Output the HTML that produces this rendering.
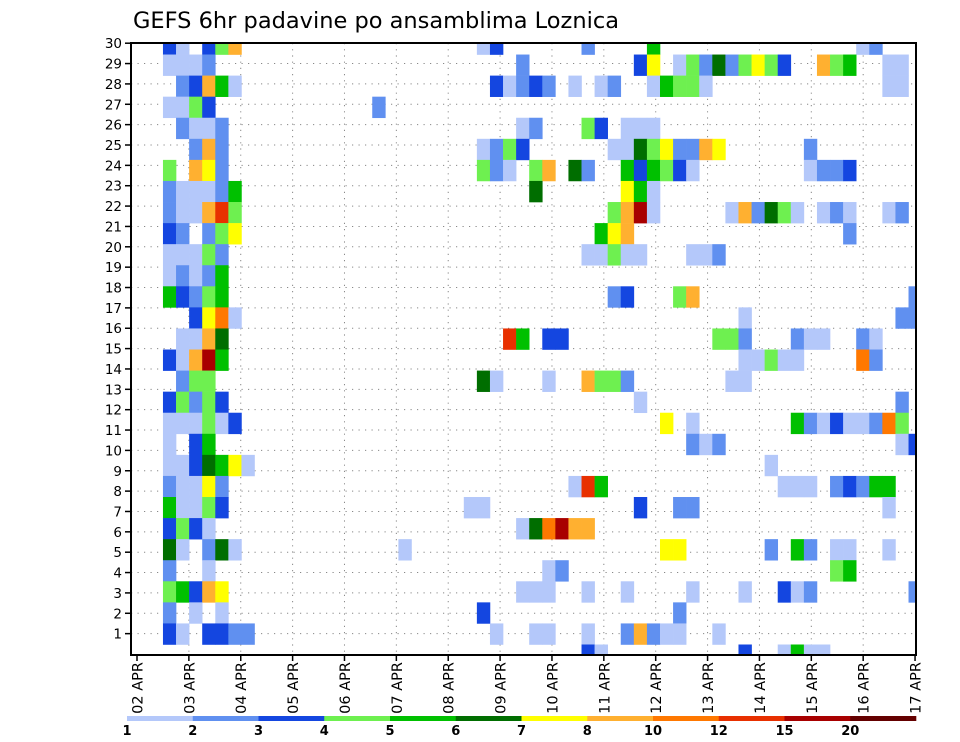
<!DOCTYPE html>
<html><head><meta charset="utf-8">
<style>
html,body{margin:0;padding:0;background:#fff;}
svg{display:block;}
text{font-family:"DejaVu Sans","Liberation Sans",sans-serif;fill:#000;}
</style></head>
<body>
<svg id="chart" width="960" height="742" viewBox="0 0 960 742" xmlns="http://www.w3.org/2000/svg">
<defs><clipPath id="plotclip"><rect x="131" y="43" width="785" height="612"/></clipPath></defs>
<text x="133" y="28" font-size="22" textLength="486" lengthAdjust="spacingAndGlyphs">GEFS 6hr padavine po ansamblima Loznica</text>
<g id="grid"></g>
<g id="cells" clip-path="url(#plotclip)"></g>
<rect x="131" y="43" width="785" height="612" fill="none" stroke="#000" stroke-width="2"/>
<g id="axes"></g>
<g id="legend"></g>
</svg>
<script>
// Ensemble member rows (top to bottom); each entry "timestepIndex:level"
const memberRows = [
"2:3 3:1 5:3 6:4 7:8 26:1 27:3 34:2 39:5 55:1 56:2",
"2:1 3:1 4:1 5:2 29:2 38:3 39:7 41:1 42:4 43:2 44:6 45:2 46:4 47:7 48:4 49:3 52:8 53:4 54:5 57:1 58:1",
"3:2 4:3 5:8 6:5 7:1 27:3 28:1 29:2 30:3 31:2 33:1 35:1 36:2 39:1 40:5 41:4 42:4 43:1 57:1 58:1",
"2:1 3:1 4:4 5:3 18:2",
"3:2 4:1 5:1 6:2 29:1 30:2 34:4 35:3 37:1 38:1 39:1",
"4:2 5:8 6:2 26:1 27:2 28:4 29:3 36:1 37:1 38:6 39:4 40:7 41:2 42:2 43:8 44:7 51:2",
"2:4 4:8 5:7 6:2 26:4 27:2 28:1 30:4 31:8 33:6 34:2 37:5 38:3 39:5 40:4 41:3 42:1 51:1 52:2 53:2 54:3",
"2:2 3:1 4:1 5:1 6:2 7:5 30:6 37:7 38:5 39:1",
"2:2 3:1 4:1 5:8 6:10 7:4 36:4 37:8 38:11 39:1 45:1 46:8 47:2 48:6 49:4 50:1 52:1 53:2 54:1 57:1 58:2",
"2:3 3:2 5:2 6:4 7:7 35:5 36:7 37:8 54:2",
"2:1 3:1 4:1 5:4 6:2 34:1 35:1 36:4 37:1 38:1 42:1 43:1 44:2",
"2:1 3:2 4:1 5:2 6:5",
"2:5 3:3 4:2 5:4 6:5 36:2 37:3 41:4 42:8 59:2",
"4:3 5:7 6:9 7:1 46:1 58:2 59:2",
"3:1 4:1 5:8 6:6 28:10 29:5 31:3 32:3 44:4 45:4 46:2 50:2 51:1 52:1 55:2 56:1",
"2:3 3:1 4:8 5:11 6:5 46:1 47:1 48:4 49:1 50:1 55:9 56:2",
"3:2 4:4 5:4 26:6 27:1 31:1 34:8 35:4 36:4 37:2 45:1 46:1",
"2:3 3:4 4:2 5:4 6:3 38:1 58:2",
"2:1 3:1 4:1 5:4 6:1 7:3 40:7 42:1 50:5 51:2 52:1 53:3 54:1 55:1 56:2 57:9 58:4",
"2:1 4:3 5:5 42:2 43:1 44:2 58:1 59:3",
"2:1 3:1 4:3 5:6 6:5 7:7 8:1 48:1",
"2:2 3:1 4:1 5:7 6:2 33:1 34:10 35:5 49:1 50:1 51:1 53:2 54:3 55:2 56:5 57:5",
"2:5 3:1 4:1 5:4 6:3 25:1 26:1 38:3 41:2 42:2 57:1",
"2:3 3:4 4:3 5:1 29:1 30:6 31:9 32:11 33:8 34:8",
"2:6 3:1 5:2 6:6 7:1 20:1 40:7 41:7 48:2 50:5 51:2 53:1 54:1 57:1",
"2:2 5:1 31:1 32:2 53:4 54:5",
"2:4 3:5 4:3 5:8 6:7 29:1 30:1 31:1 34:1 37:1 42:1 46:1 49:3 50:1 51:2 59:2",
"2:2 4:1 6:1 26:3 41:2",
"2:3 3:1 5:3 6:3 7:2 8:2 27:1 30:1 31:1 34:1 37:2 38:8 39:2 40:1 41:1 44:1",
"34:3 35:1 46:3 49:1 50:5 51:1 52:1"
];
const levelColors = ["#ffffff","#b4c8fa","#6090f0","#1446e0","#6ef050","#00c000","#006e00","#ffff00","#ffb030","#ff7800","#e83000","#a80000","#640000"];
const legendLabels = ["1","2","3","4","5","6","7","8","10","12","15","20"];
const dayLabels = ["02","03","04","05","06","07","08","09","10","11","12","13","14","15","16","17"];
const yTickLabels = ["1","2","3","4","5","6","7","8","9","10","11","12","13","14","15","16","17","18","19","20","21","22","23","24","25","26","27","28","29","30"];

const NS = "http://www.w3.org/2000/svg";
function mk(tag, attrs, parent){const e=document.createElementNS(NS,tag);for(const k in attrs)e.setAttribute(k,attrs[k]);parent.appendChild(e);return e;}
// axis functions
const cellW = 13.08, cellH = 21.07;
function xCell(c){return 136.8 + cellW*c;}
function yRow(j){return 44 + cellH*j - cellH/2;}
function xDay(d){return 137 + 51.87*d;}
function yTick(i){return 654 - 20.36*(i+1);}

const grid = document.getElementById('grid');
for(let i=0;i<yTickLabels.length-1;i++){
  const l = mk('line',{x1:131,x2:916,y1:yTick(i),y2:yTick(i),stroke:'#888','stroke-width':1,'stroke-dasharray':'1.2,5.3'},grid);
  
  
}
for(let d=1;d<dayLabels.length-1;d++){
  const l = mk('line',{x1:xDay(d),x2:xDay(d),y1:43,y2:655,stroke:'#888','stroke-width':1,'stroke-dasharray':'1.2,5'},grid);
  
  
}

const cells = document.getElementById('cells');
memberRows.forEach((row,j)=>{
  row.split(' ').forEach(tok=>{
    if(!tok) return;
    const [c,v] = tok.split(':').map(Number);
    const r = mk('rect',{x:xCell(c),y:yRow(j),width:cellW+0.3,height:cellH+0.3,fill:levelColors[v]},cells);
    
    
  });
});

const axes = document.getElementById('axes');
yTickLabels.forEach((lab,i)=>{
  const y = yTick(i);
  const t = mk('line',{x1:125,x2:131,y1:y,y2:y,stroke:'#000','stroke-width':1.5},axes);
  
  
  const tx = mk('text',{x:122,y:y+5,'font-size':13.5,'text-anchor':'end'},axes);
  tx.textContent = lab;
  
  
});
dayLabels.forEach((lab,d)=>{
  const x = xDay(d);
  const t = mk('line',{x1:x,x2:x,y1:655,y2:661,stroke:'#000','stroke-width':1.5},axes);
  
  
  const tx = mk('text',{x:0,y:0,'font-size':14.5,'text-anchor':'end',transform:'translate('+(x+5.5)+',662) rotate(-90)'},axes);
  tx.textContent = lab+' APR';
  
  
});

const legend = document.getElementById('legend');
const lw = (916-127)/legendLabels.length;
legendLabels.forEach((lab,i)=>{
  const r = mk('rect',{x:127+lw*i,y:716,width:lw+0.3,height:5,fill:levelColors[i+1]},legend);
  
  
  const t = mk('text',{x:127+lw*i,y:735,'font-size':13,'font-weight':'bold','text-anchor':'middle'},legend);
  t.textContent = lab;
  
  
});
</script>
</body></html>
